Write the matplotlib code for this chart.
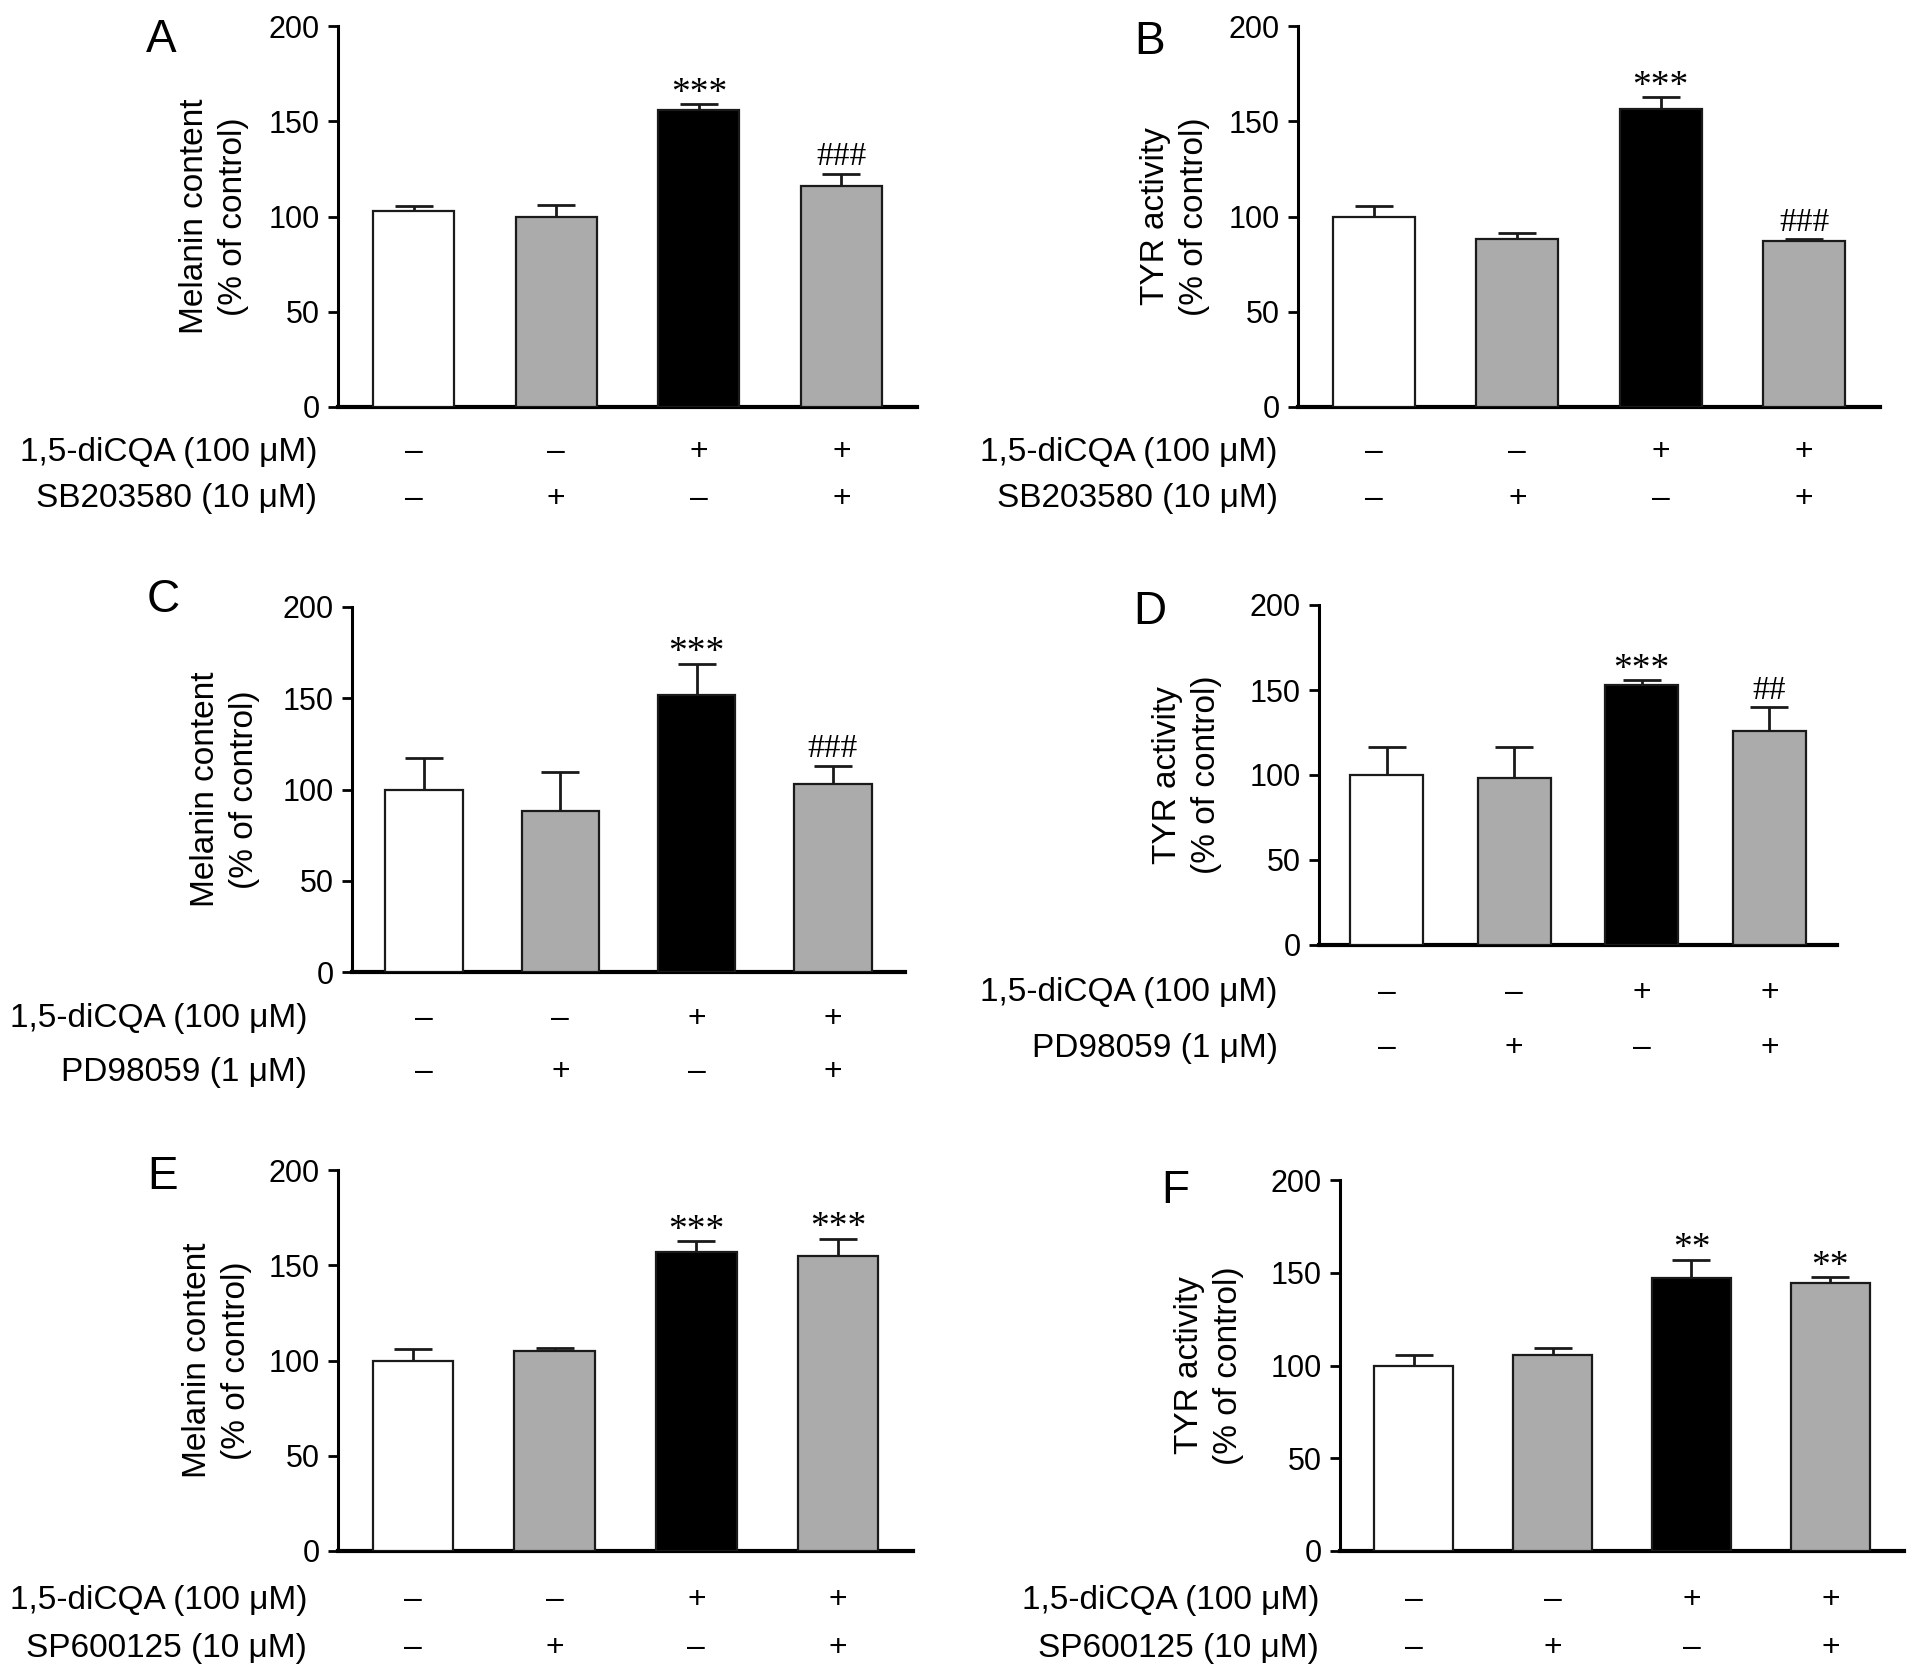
import matplotlib
matplotlib.use('Agg')
import matplotlib.pyplot as plt
import numpy as np

plt.rcParams['font.family'] = ['Liberation Sans', 'DejaVu Sans']

# datos
grupos = ['ctrl', 'inhib', 'diCQA', 'diCQA+inhib']
dicqa_signos = ['–', '–', '+', '+']
inhib_signos = ['–', '+', '–', '+']

melanina_sb = [103, 100, 156, 116]
melanina_sb_err = [2.7, 6, 3, 6.4]
tyr_sb = [100, 88, 156.5, 87]
tyr_sb_err = [5.7, 3.2, 6, 1]

melanina_pd = [100, 88, 152, 103]
melanina_pd_err = [17, 21.5, 17, 10]
tyr_pd = [100, 98, 153, 126]
tyr_pd_err = [16.5, 18.5, 2.7, 14]

melanina_sp = [100, 105, 157, 155]
melanina_sp_err = [6, 1.5, 5.5, 9]
tyr_sp = [100, 105.5, 147, 144.5]
tyr_sp_err = [5.5, 4, 10, 3]

sig_sb = ['', '', '***', '###']
sig_pd_mel = ['', '', '***', '###']
sig_pd_tyr = ['', '', '***', '##']
sig_sp_mel = ['', '', '***', '***']
sig_sp_tyr = ['', '', '**', '**']

inhibidores = ['SB203580 (10 μM)', 'PD98059 (1 μM)', 'SP600125 (10 μM)']
etiqueta_mel = 'Melanin content\n(% of control)'
etiqueta_tyr = 'TYR activity\n(% of control)'

colores = ['white', '#ababab', 'black', '#ababab']

W, H = 1913, 1672
fig = plt.figure(figsize=(W / 100, H / 100), dpi=100)


def panel(letra, caja, letra_pos, valores, errores, sig, ylabel, inhib,
          dx_lab, filas, dx_ylab):
    l, r, t, b = caja
    ax = fig.add_axes([l / W, 1 - b / H, (r - l) / W, (b - t) / H])
    ancho_px, alto_px = r - l, b - t
    x = np.arange(len(valores))
    ax.errorbar(x, valores, yerr=[np.zeros(len(errores)), errores], fmt='none',
                ecolor='#1a1a1a', elinewidth=2, capsize=14, capthick=2, zorder=2)
    ax.bar(x, valores, width=0.57, color=colores, edgecolor='#1a1a1a',
           linewidth=1.6, zorder=3)
    ax.set_xlim(-0.53, 3.53)
    ax.set_ylim(0, 200)
    ax.set_yticks([0, 50, 100, 150, 200])
    ax.set_xticks([])
    ax.tick_params(axis='y', labelsize=22, length=7, width=2, pad=6)
    for s in ['top', 'right']:
        ax.spines[s].set_visible(False)
    ax.spines['left'].set_linewidth(2.2)
    ax.spines['bottom'].set_linewidth(3)

    # estrellas y almohadillas
    for xi, v, e, s in zip(x, valores, errores, sig):
        if not s:
            continue
        off = 1 if '*' in s else 6
        tam = 27 if '*' in s else 24
        ax.annotate(s, (xi, v + e), xytext=(0, off), textcoords='offset points',
                    ha='center', va='baseline', fontsize=tam,
                    family=['Liberation Serif', 'DejaVu Serif'])

    ax.text(dx_ylab / ancho_px, 0.5, ylabel, transform=ax.transAxes,
            rotation=90, ha='center', va='center', fontsize=24,
            linespacing=1.3)

    # filas de tratamientos
    xt = ax.get_xaxis_transform()
    for nombre, signos, dy in zip(['1,5-diCQA (100 μM)', inhib],
                                  [dicqa_signos, inhib_signos], filas):
        yf = -dy / alto_px
        ax.text(dx_lab / ancho_px, yf, nombre, transform=ax.transAxes,
                ha='right', va='center', fontsize=24)
        for xi, sg in zip(x, signos):
            ax.text(xi, yf, sg, transform=xt, ha='center', va='center',
                    fontsize=23)

    fig.text(letra_pos[0] / W, 1 - letra_pos[1] / H, letra, ha='center',
             va='center', fontsize=33)
    return ax


panel('A', (338, 917, 26, 407), (161, 40), melanina_sb, melanina_sb_err,
      sig_sb, etiqueta_mel, inhibidores[0], -21, (45, 92), -124)
panel('B', (1298, 1880, 26, 407), (1150, 42), tyr_sb, tyr_sb_err,
      sig_sb, etiqueta_tyr, inhibidores[0], -20, (45, 92), -123)
panel('C', (352, 905, 607, 972), (163, 600), melanina_pd, melanina_pd_err,
      sig_pd_mel, etiqueta_mel, inhibidores[1], -45, (47, 100), -127)
panel('D', (1319, 1837, 605, 945), (1150, 612), tyr_pd, tyr_pd_err,
      sig_pd_tyr, etiqueta_tyr, inhibidores[1], -41, (48, 103), -132)
panel('E', (338, 913, 1170, 1551), (163, 1177), melanina_sp, melanina_sp_err,
      sig_sp_mel, etiqueta_mel, inhibidores[2], -31, (49, 97), -121)
panel('F', (1340, 1904, 1180, 1551), (1175, 1191), tyr_sp, tyr_sp_err,
      sig_sp_tyr, etiqueta_tyr, inhibidores[2], -21, (49, 97), -131)

fig.savefig('out.png', dpi=100, facecolor='white')
